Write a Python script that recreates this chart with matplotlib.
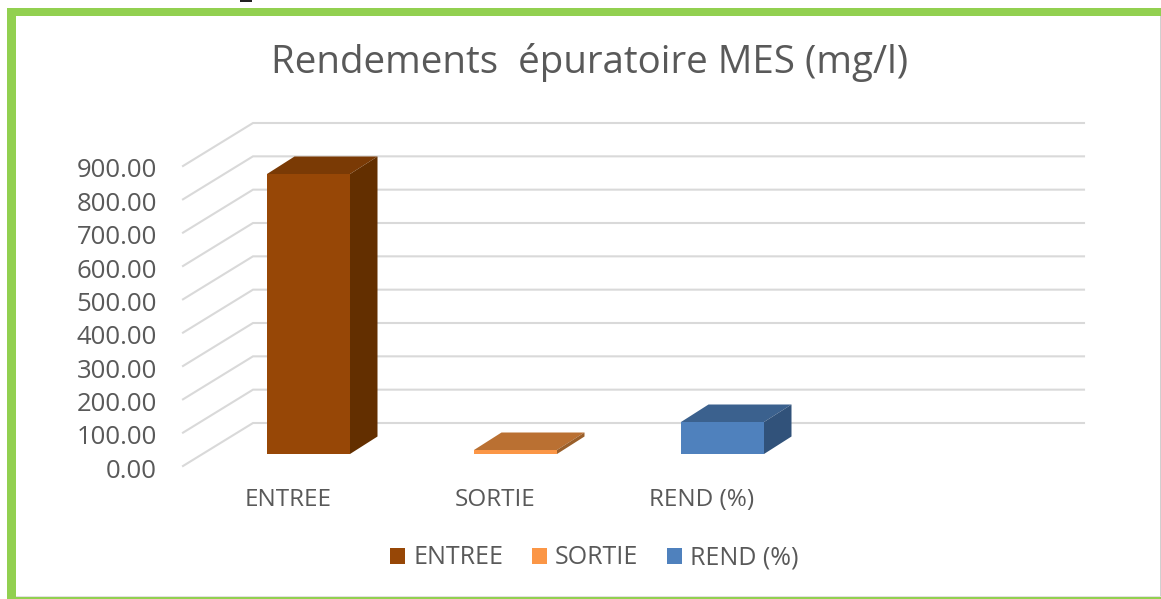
import matplotlib
matplotlib.use("Agg")
import matplotlib.pyplot as plt
from matplotlib.patches import Polygon, Rectangle

categories = ["ENTREE", "SORTIE", "REND (%)"]
values = [840, 12, 96]
front_colors = ["#974706", "#FB9646", "#4F81BD"]
top_colors = ["#7A3A05", "#BA7032", "#3B618E"]
side_colors = ["#632F00", "#9A5F2A", "#31527A"]
y_ticks = [0, 100, 200, 300, 400, 500, 600, 700, 800, 900]

W, H = 1161, 599
TXT = "#595959"
plt.rcParams["font.family"] = "Open Sans"

fig = plt.figure(figsize=(W / 100, H / 100), dpi=100)
ax = fig.add_axes([0, 0, 1, 1])

# x is in categories (207 px each), y is in chart units (3 per px)
PX = 1 / 207
VPX = 3
ax.set_xlim(-308.5 * PX, (W - 308.5) * PX)
ax.set_ylim((454 - H) * VPX, 454 * VPX)
ax.axis("off")

# picture frame
ax.add_patch(Rectangle((0, 0), 1, 1, transform=ax.transAxes, fc="white", ec="none", zorder=0))
green = "#92D050"
fig.patches.append(Rectangle((7 / W, 0), 8.5 / W, 591 / H, transform=fig.transFigure, fc=green, ec="none"))
fig.patches.append(Rectangle((7 / W, 1 - 15.5 / H), 1 - 7 / W, 7.5 / H, transform=fig.transFigure, fc=green, ec="none"))
fig.patches.append(Rectangle((7 / W, 0), 1 - 7 / W, 2 / H, transform=fig.transFigure, fc=green, ec="none"))
fig.patches.append(Rectangle((15.5 / W, 2 / H), 1 - 15.5 / W, 1.5 / H, transform=fig.transFigure, fc="#E2E2E2", ec="none"))
fig.patches.append(Rectangle((1 - 1.5 / W, 3 / H), 1.5 / W, 1 - 18.5 / H, transform=fig.transFigure, fc="#D0D0D0", ec="none"))
fig.patches.append(Rectangle((240 / W, 1 - 2 / H), 12 / W, 2 / H, transform=fig.transFigure, fc="#222222", ec="none"))

# walls
wall_front_x = (183 - 308.5) * PX
wall_left_x = (253 - 308.5) * PX
wall_right_x = (1084 - 308.5) * PX
front_off = -12 * VPX
back_off = 31 * VPX
for v in y_ticks:
    ax.plot([wall_front_x, wall_left_x, wall_right_x],
            [v + front_off, v + back_off, v + back_off],
            color="#D9D9D9", lw=1.5, zorder=1, solid_joinstyle="miter")
    ax.text((157 - 308.5) * PX, v + front_off - 5 * VPX, f"{v:.2f}", ha="right", va="center",
            fontsize=18.5, color=TXT, zorder=5)

# bars
half = 41.5 * PX
dx = 27.5 * PX
dy = 17.5 * VPX
for i, (cat, val) in enumerate(zip(categories, values)):
    l, r = i - half, i + half
    ax.add_patch(Polygon([(l, val), (r, val), (r + dx, val + dy), (l + dx, val + dy)],
                         fc=top_colors[i], ec="none", zorder=3))
    ax.add_patch(Polygon([(r, 0), (r + dx, dy), (r + dx, val + dy), (r, val)],
                         fc=side_colors[i], ec="none", zorder=3))
    ax.add_patch(Rectangle((l, 0), 2 * half, val, fc=front_colors[i], ec="none",
                           zorder=4, label=cat))
    ax.text(i - 20.5 * PX, -46 * VPX, cat, ha="center", va="center",
            fontsize=17.5, color=TXT, zorder=5)

fig.text(590 / W, 1 - 62 / H, "Rendements  épuratoire MES (mg/l)", ha="center", va="center",
         fontsize=27.7, color=TXT)

leg = ax.legend(loc="center", bbox_to_anchor=(594.5 / W, 1 - 558 / H), ncol=3, frameon=False,
                fontsize=18, labelcolor=TXT, handlelength=0.6, handleheight=0.6,
                handletextpad=0.32, columnspacing=1.16, borderpad=0)

fig.savefig("out.png", dpi=100)
